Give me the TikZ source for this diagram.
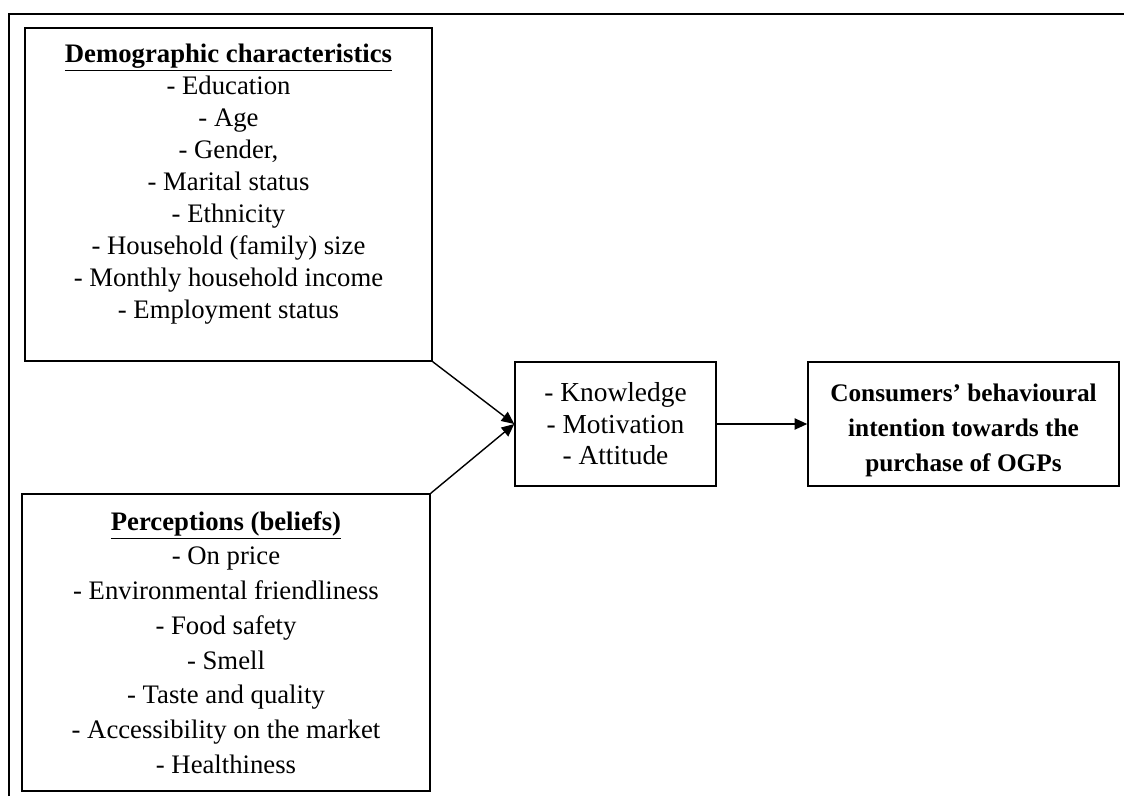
\documentclass[tikz,border=0pt]{standalone}
\usepackage{fontspec}
\setmainfont{Liberation Serif}
\usepackage{tikz}
\usetikzlibrary{shapes,arrows.meta}
\tikzset{blk/.style={rectangle,draw,line width=1pt,align=center,inner sep=0pt}}

\begin{document}
\begin{tikzpicture}[x=0.025cm,y=-0.025cm,>={Triangle[length=9pt,width=8pt]},line width=1pt]
    \useasboundingbox (0,0) rectangle (1124,796);
    \draw (9,796) -- (9,14) -- (1124,14);

    \node[blk,minimum width=10.175cm,minimum height=8.325cm,text depth=19.5pt,
          font=\fontsize{19}{22.76}\selectfont] (d) at (228.5,194.5)
        {\underline{\textbf{Demographic characteristics}}\\- Education\\- Age\\- Gender,\\- Marital status\\- Ethnicity\\- Household (family) size\\- Monthly household income\\- Employment status};
    \node[blk,minimum width=10.2cm,minimum height=7.425cm,
          font=\fontsize{19}{24.7}\selectfont] (p) at (226,642.5)
        {\underline{\textbf{Perceptions (beliefs)}}\\- On price\\- Environmental friendliness\\- Food safety\\- Smell\\- Taste and quality\\- Accessibility on the market\\- Healthiness};
    \node[blk,minimum width=5.025cm,minimum height=3.1cm,
          font=\fontsize{19.5}{22.4}\selectfont] (k) at (615.5,424)
        {- Knowledge\\- Motivation\\- Attitude};
    \node[blk,minimum width=7.775cm,minimum height=3.1cm,text height=71pt,
          font=\fontsize{18}{24.9}\selectfont\bfseries] (c) at (963.5,424)
        {Consumers’ behavioural\\intention towards the\\purchase of OGPs};

    \draw [->] (d.south east) to []node[]{} (k.west);
    \draw [->] (p.north east) to []node[]{} (k.west);
    \draw [->] (k) to []node[]{} (c);
\end{tikzpicture}
\end{document}
